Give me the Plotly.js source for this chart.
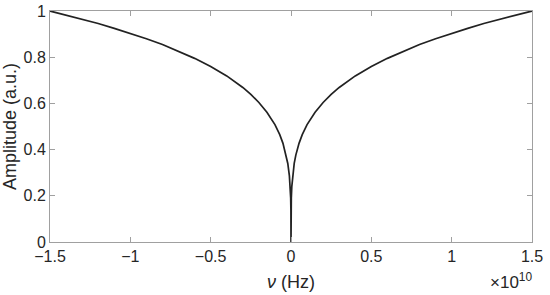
<!DOCTYPE html>
<html>
<head>
<meta charset="utf-8">
<script src="https://cdn.plot.ly/plotly-3.0.1.min.js"></script>
<style>
  html, body { margin: 0; padding: 0; background: #fff; }
  #chart { width: 550px; height: 295px; }
</style>
</head>
<body>
<div id="chart"></div>
<script>
// frequency in units of 1e10 Hz, amplitude in a.u.
const nuPos = [0, 0.0005, 0.002, 0.005, 0.01, 0.02, 0.03, 0.05, 0.07, 0.1, 0.15, 0.2, 0.25,
  0.3, 0.4, 0.5, 0.6, 0.7, 0.8, 0.9, 1.0, 1.1, 1.2, 1.3, 1.4, 1.5];
const ampPos = [0, 0.135, 0.191, 0.240, 0.286, 0.340, 0.376, 0.427, 0.465, 0.508, 0.562, 0.604, 0.639,
  0.669, 0.719, 0.760, 0.795, 0.826, 0.855, 0.880, 0.904, 0.925, 0.946, 0.965, 0.983, 1.000];

const xTicks = [-1.5, -1, -0.5, 0, 0.5, 1, 1.5];
const yTicks = [0, 0.2, 0.4, 0.6, 0.8, 1];

// curve is mirrored around zero
const nu = nuPos.slice().reverse().map(v => -v).concat(nuPos.slice(1));
const amp = ampPos.slice().reverse().concat(ampPos.slice(1));

const axisColor = '#a0a0a0';
const textColor = '#262626';
const fontFamily = '"Liberation Sans", Arial, Helvetica, sans-serif';

const trace = {
  type: 'scatter',
  mode: 'lines',
  x: nu,
  y: amp,
  line: { color: '#222222', width: 1.7 },
  showlegend: false,
  hoverinfo: 'skip'
};

const layout = {
  width: 550,
  height: 295,
  margin: { l: 50, r: 18, t: 11, b: 53, pad: 0 },
  paper_bgcolor: '#fff',
  plot_bgcolor: '#fff',
  font: { family: fontFamily, size: 16, color: textColor },
  xaxis: {
    range: [-1.5, 1.5],
    tickvals: xTicks,
    ticks: 'inside',
    ticklen: 5,
    tickcolor: axisColor,
    showline: true,
    linecolor: axisColor,
    linewidth: 1,
    mirror: 'ticks',
    showgrid: false,
    zeroline: false,
    tickfont: { size: 16, color: textColor },
    title: { text: '<i>ν</i> (Hz)', font: { size: 18, color: textColor }, standoff: 11 }
  },
  yaxis: {
    range: [0, 1],
    tickvals: yTicks,
    ticks: 'inside',
    ticklen: 5,
    tickcolor: axisColor,
    showline: true,
    linecolor: axisColor,
    linewidth: 1,
    mirror: 'ticks',
    showgrid: false,
    zeroline: false,
    tickfont: { size: 16, color: textColor },
    title: { text: 'Amplitude (a.u.)', font: { size: 18, color: textColor }, standoff: 4 }
  },
  annotations: [{
    xref: 'paper', yref: 'paper',
    x: 1.005, y: -0.17,
    xanchor: 'right', yanchor: 'middle',
    showarrow: false,
    text: '×10<sup>10</sup>',
    font: { size: 17, color: textColor }
  }]
};

Plotly.newPlot('chart', [trace], layout, { displayModeBar: false, staticPlot: true });
</script>
</body>
</html>
